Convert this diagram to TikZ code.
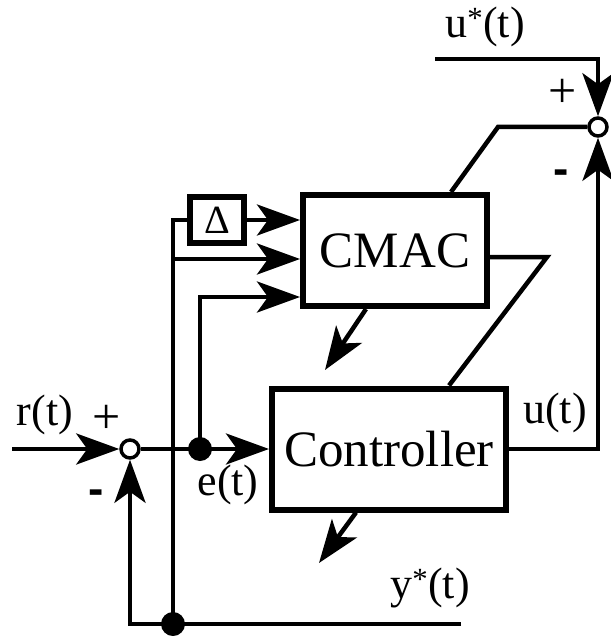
\documentclass[tikz,border=0pt]{standalone}
\usepackage{fontspec}
\setmainfont{Liberation Serif}
\newfontfamily\minusfont{Liberation Sans}
\usetikzlibrary{arrows.meta,calc}
\begin{document}
\begin{tikzpicture}[x=1pt,y=-1pt,
  line/.style={line width=4.5pt, line join=miter},
  arr/.style={line, -{Stealth[length=43pt,width=31pt,inset=11pt]}},
  blk/.style={draw, line width=6pt, inner sep=0pt, font=\fontsize{51}{51}\selectfont},
  sumc/.style={circle, draw, fill=white, line width=3.5pt, minimum size=18pt, inner sep=0pt},
  dot/.style={circle, fill=black, minimum size=24pt, inner sep=0pt},
  lbl/.style={inner sep=0pt, font=\fontsize{44}{44}\selectfont},
  pls/.style={inner sep=0pt, font=\fontsize{50}{50}\selectfont},
  sgn/.style={inner sep=0pt, font=\minusfont\bfseries\fontsize{46}{46}\selectfont}]
\useasboundingbox (0,0) rectangle (610,636);
% blocks
\node[blk, minimum width=184pt, minimum height=111pt] (cmac) at (395,250.5) {CMAC};
\node[blk, minimum width=234pt, minimum height=121pt] (ctrl) at (389,449) {Controller};
\node[blk, line width=5.5pt, minimum width=54pt, minimum height=46pt, font=\fontsize{40}{40}\selectfont] (delta) at (217,220) {Δ};
% junctions
\node[sumc] (s1) at (130,449) {};
\node[sumc] (s2) at (598,127) {};
\node[dot] (d1) at (200,449) {};
\node[dot] (d2) at (173,624) {};
% free ends / helpers
\coordinate (rin) at (12,449);
\coordinate (ustart) at (435,59);
\coordinate (yend) at (461,624);
\coordinate (br) at (173,259);
\coordinate (in3) at (0,297);
\coordinate (ct) at (451,0);
\coordinate (kink1) at (498,127);
\coordinate (r1) at (0,257);
\coordinate (kink2) at (547,257);
\coordinate (cb) at (449,0);
\coordinate (cms) at (366,0);
\coordinate (cmacout) at (325,370);
\coordinate (cts) at (356,0);
\coordinate (ctrlout) at (319,563);
% connectors
\draw[arr] (rin) -- (s1.west);
\draw[line] (s1.east) -- (d1.center);
\draw[arr] (d1.center) -- (ctrl.west);
\draw[line] (yend) -- (d2.center);
\draw[arr] (d2.center) -| (s1.south);
\draw[line] (d2.center) |- (delta.west);
\draw[arr] (delta.east) -- (cmac.west |- delta.east);
\draw[arr] (br) -- (br -| cmac.west);
\draw[arr] (d1.center) |- (cmac.west |- in3);
\draw[arr] (ctrl.east) -| (s2.south);
\draw[arr] (ustart) -| (s2.north);
\draw[line] (s2.west) -- (kink1) -- (cmac.north -| ct);
\draw[line] (cmac.east |- r1) -- (kink2) -- (ctrl.north -| cb);
\draw[arr] (cmac.south -| cms) -- (cmacout);
\draw[arr] (ctrl.south -| cts) -- (ctrlout);
% labels
\node[lbl] (lu) at (485,27) {u\textsuperscript{*}(t)};
\node[pls] (pr) at (563,93) {+};
\node[sgn] (mr) at (561,177) {-};
\node[lbl] (lr) at (45,415) {r(t)};
\node[pls] (pl) at (107,419) {+};
\node[sgn] (ml) at (96,497) {-};
\node[lbl] (le) at (228,485) {e(t)};
\node[lbl] (luu) at (555,413) {u(t)};
\node[lbl] (ly) at (430,588) {y\textsuperscript{*}(t)};
\end{tikzpicture}
\end{document}
